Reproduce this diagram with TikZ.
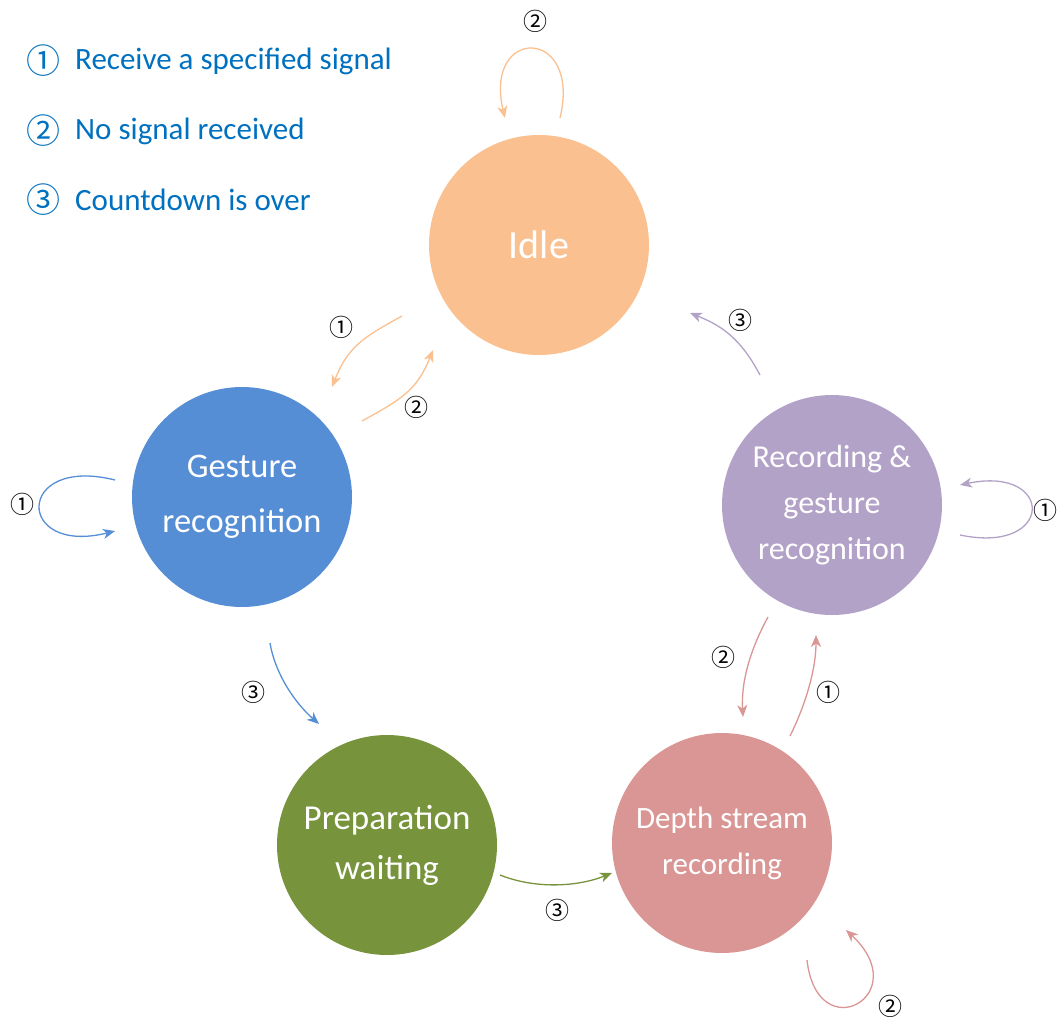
\documentclass[tikz,border=0pt]{standalone}
\usepackage{fontspec}
\setmainfont{Carlito}
\newfontfamily\symfont{Noto Sans CJK SC}
\usetikzlibrary{arrows.meta,calc}
\definecolor{cIdle}{HTML}{FAC090}
\definecolor{cGes}{HTML}{558ED5}
\definecolor{cRec}{HTML}{B3A2C7}
\definecolor{cPrep}{HTML}{77933C}
\definecolor{cDepth}{HTML}{D99694}
\definecolor{cLeg}{HTML}{0070C0}
\tikzset{
  state/.style={circle, minimum size=220pt, inner sep=0pt, text=white, align=center},
  conn/.style={line width=1.3pt, -{Stealth[length=12pt,width=10pt,inset=3.5pt]}},
  lab/.style={font=\symfont\fontsize{24}{24}\selectfont, text=black, inner sep=0pt},
  legnum/.style={font=\symfont\fontsize{34}{34}\selectfont, text=cLeg, inner sep=0pt},
  legtxt/.style={font=\fontsize{31}{31}\selectfont, text=cLeg, anchor=west, inner sep=0pt},
}
\begin{document}
\begin{tikzpicture}[x=1pt,y=-1pt]
\useasboundingbox (0,0) rectangle (1061,1023);
% states
\node[state, fill=cIdle, font=\fontsize{40}{40}\selectfont] (idle) at (539,245) {Idle};
\node[state, fill=cGes, font=\fontsize{34.5}{55}\selectfont] (ges) at (242,497) {Gesture\\recognition};
\node[state, fill=cRec, font=\fontsize{32}{46}\selectfont] (rec) at (832,505) {Recording \&\\gesture\\recognition};
\node[state, fill=cPrep, font=\fontsize{35}{50}\selectfont] (prep) at (387,845) {Preparation\\waiting};
\node[state, fill=cDepth, font=\fontsize{31}{46}\selectfont] (depth) at (722,843) {Depth stream\\recording};
% legend
\node[legnum] (l1) at (44,61) {①};
\node[legtxt] (t1) at (75,61) {Receive a specified signal};
\node[legnum] (l2) at (44,131) {②};
\node[legtxt] (t2) at (75,131) {No signal received};
\node[legnum] (l3) at (44,200) {③};
\node[legtxt] (t3) at (75,200) {Countdown is over};
% connectors
\draw[conn, cIdle] ($(idle)+(21,-127)$) .. controls +(22,-92) and +(-22,-92) .. ($(idle)+(-34,-127)$);
\node[lab] (a1) at (535,21) {②};
\draw[conn, cIdle] ($(idle)+(-137,71)$) .. controls +(-40,22) and +(16,-40) .. ($(ges)+(90,-110)$);
\node[lab] (a2) at (341,327) {①};
\draw[conn, cIdle] ($(ges)+(120,-76)$) .. controls +(40,-22) and +(-16,40) .. ($(idle)+(-106,105)$);
\node[lab] (a3) at (416,407) {②};
\draw[conn, cGes] ($(ges)+(-127,-17)$) .. controls +(-100,-25) and +(-100,25) .. ($(ges)+(-127,34)$);
\node[lab] (a4) at (22,504) {①};
\draw[conn, cGes] ($(ges)+(28,146)$) .. controls +(5,30) and +(-25,-22) .. ($(prep)+(-68,-121)$);
\node[lab] (a5) at (253,692) {③};
\draw[conn, cPrep] ($(prep)+(113,30)$) .. controls +(35,14) and +(-35,14) .. ($(depth)+(-110,30)$);
\node[lab] (a6) at (557,910) {③};
\draw[conn, cDepth] ($(depth)+(68,-107)$) .. controls +(15,-30) and +(0,35) .. ($(rec)+(-16,130)$);
\node[lab] (a7) at (828,692) {①};
\draw[conn, cDepth] ($(rec)+(-64,112)$) .. controls +(-18,33) and +(-2,-35) .. ($(depth)+(21,-126)$);
\node[lab] (a8) at (723,657) {②};
\draw[conn, cRec] ($(rec)+(128,30)$) .. controls +(95,20) and +(95,-20) .. ($(rec)+(128,-20)$);
\node[lab] (a9) at (1045,510) {①};
\draw[conn, cRec] ($(rec)+(-72,-130)$) .. controls +(-20,-38) and +(30,12) .. ($(idle)+(151,68)$);
\node[lab] (a10) at (740,320) {③};
\draw[conn, cDepth] ($(depth)+(85,117)$) .. controls +(10,90) and +(70,65) .. ($(depth)+(124,87)$);
\node[lab] (a11) at (890,1006) {②};
\end{tikzpicture}
\end{document}
